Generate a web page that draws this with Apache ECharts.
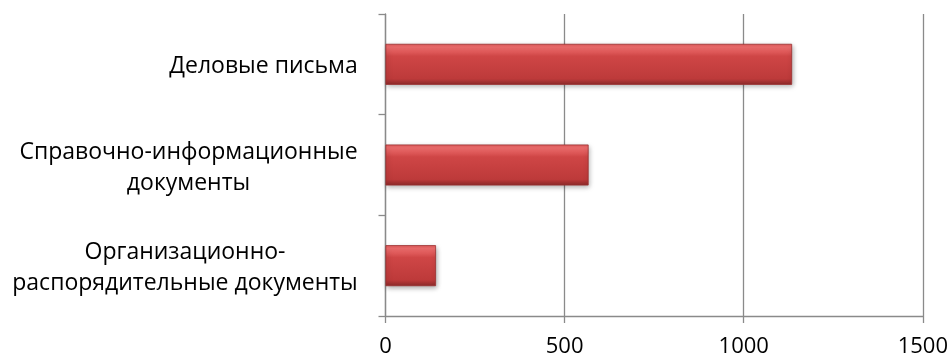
<!DOCTYPE html>
<html><head><meta charset="utf-8">
<script src="https://cdn.jsdelivr.net/npm/echarts@6/dist/echarts.min.js"></script>
<style>html,body{margin:0;padding:0;background:#fff}#c{width:951px;height:358px}</style>
</head><body><div id="c"></div>
<script>
var categories = ['Организационно-\nраспорядительные документы', 'Справочно-информационные\nдокументы', 'Деловые письма'];
var values = [141, 567, 1135];
var xTicks = [0, 500, 1000, 1500];

var FONT = 'Open Sans';
var labelWidths = [364, 357, 207];
var rich = {};
categories.forEach(function(c, i){ rich['l' + i] = {width: labelWidths[i], align: 'center', fontSize: 23, lineHeight: 31, fontFamily: FONT, color: '#000'}; });

var chart = echarts.init(document.getElementById('c'), null, {renderer: 'canvas'});
chart.setOption({
  animation: false,
  grid: {left: 383.5, right: 28, top: 14, bottom: 40.7, containLabel: false},
  xAxis: {
    type: 'value', min: xTicks[0], max: xTicks[xTicks.length - 1], interval: 500,
    axisLine: {show: true, lineStyle: {color: '#8a8a8a', width: 1.3}},
    axisTick: {show: true, length: 7, lineStyle: {color: '#8a8a8a', width: 1.3}},
    splitLine: {show: true, lineStyle: {color: '#8a8a8a', width: 1.3}},
    axisLabel: {fontSize: 22, fontFamily: FONT, color: '#000', margin: 20, formatter: function(v){ return String(v); }}
  },
  yAxis: {
    type: 'category', data: categories,
    axisLine: {show: true, lineStyle: {color: '#8a8a8a', width: 1.3}},
    axisTick: {show: true, length: 7, alignWithLabel: false, lineStyle: {color: '#8a8a8a', width: 1.3}},
    axisLabel: {
      margin: 18.5, align: 'right', padding: [5, 0, 0, 0],
      formatter: function(v, i){ return v.split('\n').map(function(s){ return '{l' + i + '|' + s + '}'; }).join('\n'); },
      rich: rich
    }
  },
  series: [{
    type: 'bar', data: values, barWidth: 41,
    itemStyle: {
      color: new echarts.graphic.LinearGradient(0, 0, 0, 1, [
        {offset: 0, color: '#e35a5a'},
        {offset: 0.08, color: '#f06e6e'},
        {offset: 0.3, color: '#cf4646'},
        {offset: 0.85, color: '#bd3a3a'},
        {offset: 1, color: '#8c2a2a'}
      ]),
      borderColor: '#9a3030', borderWidth: 0.8,
      shadowColor: 'rgba(0,0,0,0.35)', shadowBlur: 5, shadowOffsetY: 2, shadowOffsetX: 1
    }
  }]
});
</script></body></html>
